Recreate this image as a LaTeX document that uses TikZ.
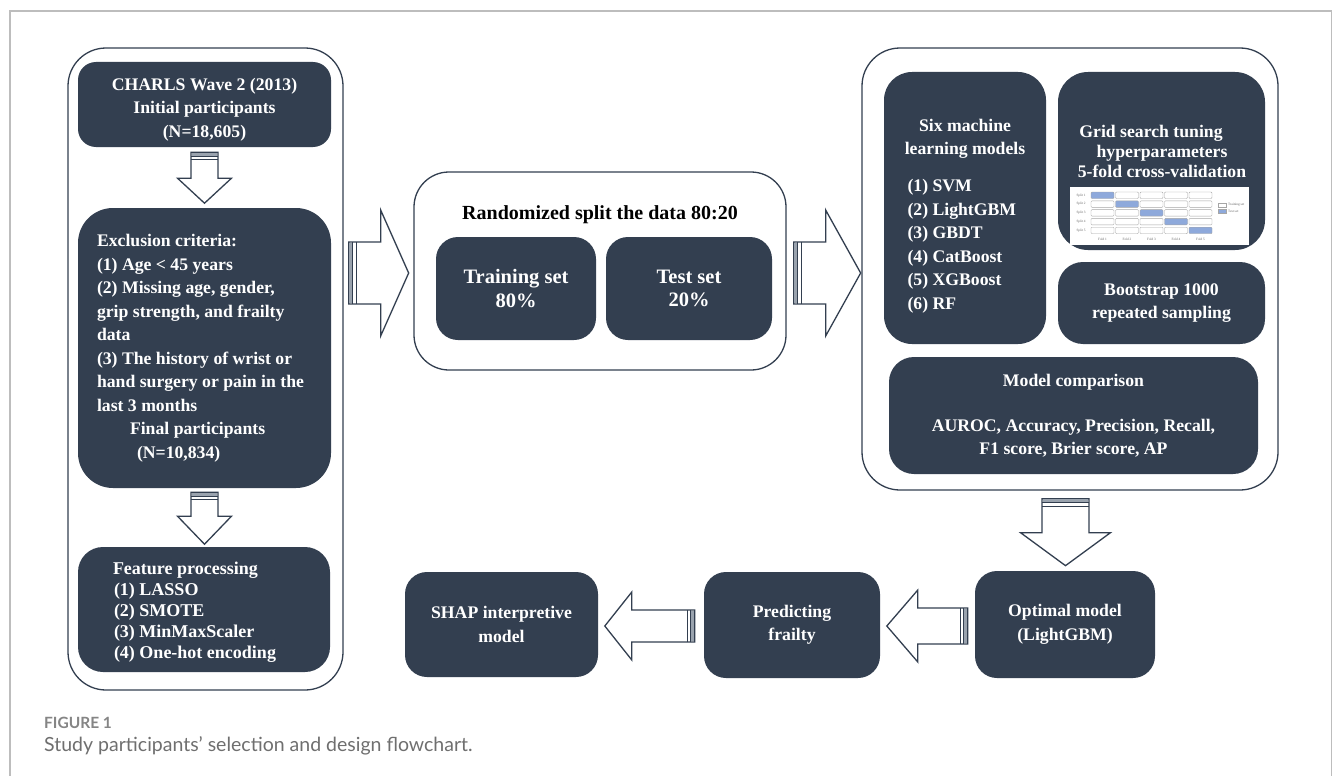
\documentclass[tikz,border=0pt]{standalone}
\usepackage{fontspec}
\setmainfont{Liberation Serif}
\newfontfamily\capfont{Lato}
\usetikzlibrary{calc}
\definecolor{navy}{HTML}{333F50}
\definecolor{framegray}{HTML}{BDBDBD}
\definecolor{captext}{HTML}{6F6F6F}
\definecolor{cellblue}{HTML}{8EA9DB}
\definecolor{stripegray}{HTML}{9AA3AE}
\newcommand\stripearrow[4]{%
  \draw[blockarrow] (0,-#3) -- (#1,-#3) -- (#1,-#4) -- ({#1+#2},0) -- (#1,#4) -- (#1,#3) -- (0,#3) -- cycle;
  \fill[stripegray] (0.6,{-#3+0.6}) rectangle (4,{#3-0.6});
  \draw[navy, line width=1.3pt] (0,-#3) -- (0,#3);
  \draw[navy, line width=1.1pt] (4,-#3) -- (4,#3);
  \draw[navy, line width=1.1pt] (7.5,-#3) -- (7.5,#3);
}
\begin{document}
\begin{tikzpicture}[x=1pt,y=-1pt,
  box/.style={rectangle, fill=navy, rounded corners=#1, text=white, inner sep=0pt, align=center,
    font=\bfseries\fontsize{17.7}{23.5}\selectfont},
  box/.default=22pt,
  frame/.style={rectangle, draw=navy, line width=1.3pt, rounded corners=38pt, inner sep=0pt},
  blockarrow/.style={draw=navy, line width=1.3pt, fill=white, line join=miter},
  tiny/.style={font=\fontsize{3.4}{4}\selectfont, text=gray!80!black, inner sep=0pt}
]
\fill[white] (0,0) rectangle (1333,776);
\useasboundingbox (0,0) rectangle (1333,776);
\draw[framegray, line width=1.5pt] (10,777) -- (10,11) -- (1331.5,11) -- (1331.5,777);

% ---------- left column ----------
\node[frame, minimum width=275pt, minimum height=642pt] (leftframe) at (205.5,369) {};
\node[box=18pt, minimum width=253pt, minimum height=85pt] (charls) at (204.5,104.5)
  {\parbox{240pt}{\centering\vspace*{10pt}CHARLS Wave 2 (2013)\\Initial participants\\(N=18,605)}};
\node[box=35pt, minimum width=253pt, minimum height=280pt] (excl) at (204.5,348)
  {\parbox{215pt}{\raggedright Exclusion criteria:\\ (1) Age < 45 years\\ (2) Missing age, gender,\\ grip strength, and frailty\\ data\\ (3) The history of wrist or\\ hand surgery or pain in the\\ last 3 months\\ \hspace*{33pt}Final participants\\ \hspace*{40pt}(N=10,834)}};
\node[box=25pt, minimum width=252pt, minimum height=125pt, font=\bfseries\fontsize{18}{21}\selectfont] (feat) at (204,609.5)
  {\parbox{182pt}{\raggedright\vspace*{5pt}Feature processing\\ \hspace*{1pt}(1) LASSO\\ \hspace*{1pt}(2) SMOTE\\ \hspace*{1pt}(3) MinMaxScaler\\ \hspace*{1pt}(4) One-hot encoding}};

% ---------- middle ----------
\node[frame, rounded corners=35pt, minimum width=372pt, minimum height=198pt] (midframe) at (600,271) {};
\node[font=\bfseries\fontsize{20}{23}\selectfont, text=black] (split) at (600,215) {Randomized split the data 80:20};
\node[box, minimum width=160pt, minimum height=103pt, font=\bfseries\fontsize{20.5}{23.5}\selectfont] (train) at (516,288.5) {Training set\\80\%};
\node[box, minimum width=166pt, minimum height=103pt, font=\bfseries\fontsize{20.5}{23.5}\selectfont] (test) at (689,288.5) {Test set\\20\%};

% ---------- right ----------
\node[frame, minimum width=416pt, minimum height=442pt] (rightframe) at (1070,269) {};
\node[box=28pt, minimum width=162pt, minimum height=272pt] (six) at (965,208)
  {\parbox{126pt}{\vspace*{16pt}\centering Six machine\\learning models\par\vspace{13.5pt}\raggedright\leftskip=5.5pt (1) SVM\\(2) LightGBM\\(3) GBDT\\(4) CatBoost\\(5) XGBoost\\(6) RF}};
\node[box=30pt, minimum width=207pt, minimum height=178pt] (grid) at (1161.5,161) {};
\node[text=white, align=center, font=\bfseries\fontsize{17.7}{20}\selectfont, inner sep=0pt] (gridtitle) at (1162,151)
  {Grid search tuning\hspace*{22pt}\\hyperparameters\\5-fold cross-validation};
\fill[white] (1070,187) rectangle (1249,245);
\foreach \r [count=\n] in {0,...,4}{
  \foreach \c in {0,...,4}{
    \ifnum\r=\c\def\cf{cellblue}\else\def\cf{white}\fi
    \draw[gray!70, line width=0.4pt, fill=\cf, rounded corners=1pt] ({1091+24.5*\c},{192+8.8*\r}) rectangle +(23,6.5);
  }
  \node[tiny] (split\n) at (1081,{195.3+8.8*\r}) {Split \n};
  \node[tiny] (fold\n) at ({1102.5+24.5*\r},239.5) {Fold \n};
}
\draw[gray!70, line width=0.4pt, fill=white] (1218,203) rectangle (1226,207);
\draw[gray!70, line width=0.4pt, fill=cellblue] (1218,209.5) rectangle (1226,213.5);
\node[tiny, anchor=west] (legtrain) at (1228,205) {Training set};
\node[tiny, anchor=west] (legtest) at (1228,211.5) {Test set};

\node[box=25pt, minimum width=207pt, minimum height=82pt] (boot) at (1161.5,303) {Bootstrap 1000\\repeated sampling};
\node[box=25pt, minimum width=369pt, minimum height=117pt] (comp) at (1073.5,415.5)
  {Model comparison\\[21.5pt]AUROC, Accuracy, Precision, Recall,\\F1 score, Brier score, AP};

% ---------- bottom row ----------
\node[box, minimum width=180pt, minimum height=107pt] (opt) at (1065,624.5) {Optimal model\\(LightGBM)};
\node[box, minimum width=176pt, minimum height=106pt] (pred) at (792,625) {Predicting\\frailty};
\node[box, minimum width=193pt, minimum height=105pt] (shap) at (501.5,624.5) {SHAP interpretive\\model};

% ---------- block arrows ----------
\begin{scope}[shift={($(charls.south)+(0,5)$)}, rotate=-90]\stripearrow{26}{25}{13.5}{27}\end{scope}
\begin{scope}[shift={($(excl.south)+(0,4)$)}, rotate=-90]\stripearrow{24}{28}{13.5}{27}\end{scope}
\begin{scope}[shift={($(leftframe.east |- midframe.west)+(5,2)$)}]\stripearrow{32}{28}{31}{63}\end{scope}
\begin{scope}[shift={($(midframe.east)+(7,2)$)}]\stripearrow{32}{35}{31}{63}\end{scope}
\begin{scope}[shift={($(rightframe.south)+(-4.5,8)$)}, rotate=-90]\stripearrow{34}{33}{23.5}{45}\end{scope}
\begin{scope}[shift={($(opt.west)+(-7,1.5)$)}, rotate=180]\stripearrow{50}{31}{18}{36}\end{scope}
\begin{scope}[shift={($(pred.west)+(-9,1)$)}, rotate=180]\stripearrow{63}{27}{16}{34}\end{scope}

% ---------- caption ----------
\node[anchor=base west, font=\capfont\bfseries\fontsize{15.5}{18}\selectfont, text=captext!85, inner sep=0pt] (figlabel) at (44,728) {FIGURE 1};
\node[anchor=base west, font=\capfont\fontsize{19.5}{22}\selectfont, text=captext, inner sep=0pt] (caption) at (44,751) {Study participants’ selection and design flowchart.};
\end{tikzpicture}
\end{document}
